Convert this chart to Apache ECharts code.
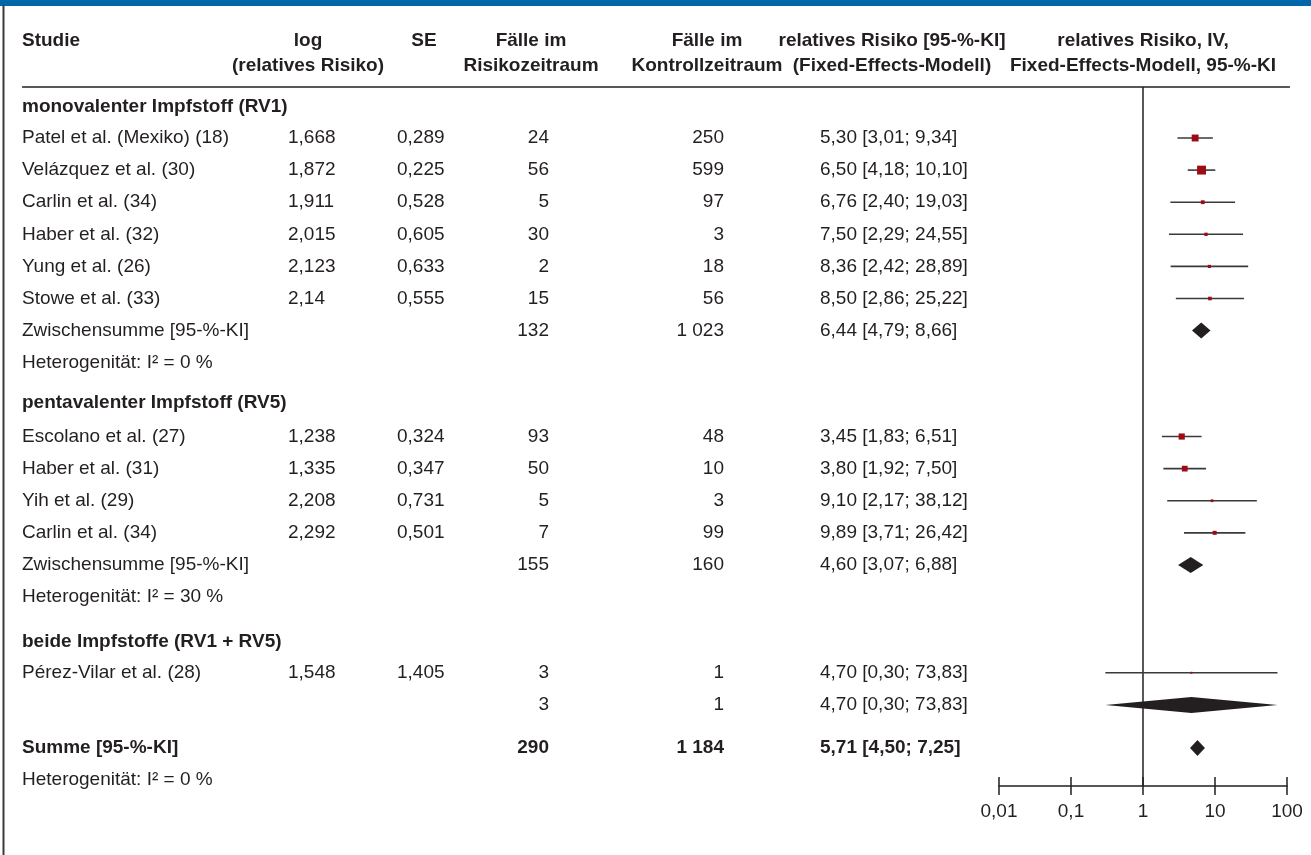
<!DOCTYPE html>
<html><head><meta charset="utf-8">
<script src="https://cdn.jsdelivr.net/npm/echarts@6/dist/echarts.min.js"></script>
<style>html,body{margin:0;padding:0;background:#fff}#c{width:1311px;height:855px}</style>
</head><body><div id="c"></div>
<script>
// ---------------- DATA ----------------
const columnHeaders = [
  ['Studie'],
  ['log', '(relatives Risiko)'],
  ['SE'],
  ['Fälle im', 'Risikozeitraum'],
  ['Fälle im', 'Kontrollzeitraum'],
  ['relatives Risiko [95-%-KI]', '(Fixed-Effects-Modell)'],
  ['relatives Risiko, IV,', 'Fixed-Effects-Modell, 95-%-KI']
];
const groupNames = ['monovalenter Impfstoff (RV1)', 'pentavalenter Impfstoff (RV5)', 'beide Impfstoffe (RV1 + RV5)'];
const studyNames = ['Patel et al. (Mexiko) (18)', 'Velázquez et al. (30)', 'Carlin et al. (34)', 'Haber et al. (32)', 'Yung et al. (26)', 'Stowe et al. (33)',
  'Escolano et al. (27)', 'Haber et al. (31)', 'Yih et al. (29)', 'Carlin et al. (34)',
  'Pérez-Vilar et al. (28)'];
const studyGroup = [0, 0, 0, 0, 0, 0, 1, 1, 1, 1, 2];
const logRR = [1.668, 1.872, 1.911, 2.015, 2.123, 2.14, 1.238, 1.335, 2.208, 2.292, 1.548];
const seLog = [0.289, 0.225, 0.528, 0.605, 0.633, 0.555, 0.324, 0.347, 0.731, 0.501, 1.405];
const casesRisk = [24, 56, 5, 30, 2, 15, 93, 50, 5, 7, 3];
const casesControl = [250, 599, 97, 3, 18, 56, 48, 10, 3, 99, 1];
const rrEst = [5.30, 6.50, 6.76, 7.50, 8.36, 8.50, 3.45, 3.80, 9.10, 9.89, 4.70];
const rrLow = [3.01, 4.18, 2.40, 2.29, 2.42, 2.86, 1.83, 1.92, 2.17, 3.71, 0.30];
const rrHigh = [9.34, 10.10, 19.03, 24.55, 28.89, 25.22, 6.51, 7.50, 38.12, 26.42, 73.83];

const subLabels = ['Zwischensumme [95-%-KI]', 'Zwischensumme [95-%-KI]', ''];
const subCasesRisk = [132, 155, 3];
const subCasesControl = [1023, 160, 1];
const subEst = [6.44, 4.60, 4.70];
const subLow = [4.79, 3.07, 0.30];
const subHigh = [8.66, 6.88, 73.83];
const subI2 = [0, 30, null];

const totalLabel = 'Summe [95-%-KI]';
const totalCasesRisk = 290;
const totalCasesControl = 1184;
const totalEst = 5.71, totalLow = 4.50, totalHigh = 7.25;
const totalI2 = 0;

const axisTickValues = [0.01, 0.1, 1, 10, 100];
const axisTickLabels = ['0,01', '0,1', '1', '10', '100'];

// ---------------- LAYOUT ----------------
const rowPositions = [-0.97, 0, 1, 2, 3, 4, 5, 6, 7, 8.26, 9.3, 10.3, 11.3, 12.3, 13.3, 14.3, 15.68, 16.66, 17.66, 19.0, 20.0];
const yMin = -1.589, yMax = 20.187;
const FONT = '"Liberation Sans", Arial, sans-serif';
const TXT = '#231f20';
const FS = 19;
const colX = { name: 22, log: 288, se: 397, cr: 549, cc: 724, rr: 820 };
const headerX = [22, 308, 424, 531, 707, 892, 1143];
const headerY = [41, 66];

// ---------------- helpers ----------------
const dec = v => String(v).replace('.', ',');
const fix2 = v => v.toFixed(2).replace('.', ',');
const thou = v => String(v).replace(/\B(?=(\d{3})+(?!\d))/g, ' ');
const ci = (e, l, h) => fix2(e) + ' [' + fix2(l) + '; ' + fix2(h) + ']';

// build table rows
const rows = [];
const studyRowIdx = [];
const pooledRows = [];
for (let g = 0; g < groupNames.length; g++) {
  rows.push({ name: groupNames[g], bold: true });
  for (let s = 0; s < studyNames.length; s++) {
    if (studyGroup[s] !== g) continue;
    studyRowIdx[s] = rows.length;
    rows.push({ name: studyNames[s], log: dec(logRR[s]), se: dec(seLog[s]), cr: thou(casesRisk[s]), cc: thou(casesControl[s]), rr: ci(rrEst[s], rrLow[s], rrHigh[s]) });
  }
  pooledRows.push({ idx: rows.length, est: subEst[g], lo: subLow[g], hi: subHigh[g] });
  rows.push({ name: subLabels[g], cr: thou(subCasesRisk[g]), cc: thou(subCasesControl[g]), rr: ci(subEst[g], subLow[g], subHigh[g]) });
  if (subI2[g] !== null) rows.push({ name: 'Heterogenität: I² = ' + subI2[g] + ' %' });
}
pooledRows.push({ idx: rows.length, est: totalEst, lo: totalLow, hi: totalHigh });
rows.push({ name: totalLabel, cr: thou(totalCasesRisk), cc: thou(totalCasesControl), rr: ci(totalEst, totalLow, totalHigh), bold: true });
rows.push({ name: 'Heterogenität: I² = ' + totalI2 + ' %' });

function txt(str, x, y, align, bold) {
  return { type: 'text', silent: true, style: { text: str, x: x, y: y, align: align, verticalAlign: 'middle', fill: TXT, fontSize: FS, fontFamily: FONT, fontWeight: bold ? 'bold' : 'normal' } };
}

const studyData = studyNames.map((n, s) => [rrLow[s], rrHigh[s], rrEst[s], rowPositions[studyRowIdx[s]], seLog[s]]);
const pooledData = pooledRows.map(p => [p.lo, p.hi, p.est, rowPositions[p.idx]]);
const tableData = rows.map((r, i) => [1, rowPositions[i], i]);

// header graphics
const graphics = [
  { type: 'rect', shape: { x: 0, y: 0, width: 1311, height: 6 }, style: { fill: '#0067a8' }, silent: true },
  { type: 'line', shape: { x1: 3.5, y1: 5, x2: 3.5, y2: 855 }, style: { stroke: '#3a3a3a', lineWidth: 2 }, silent: true },
  { type: 'line', shape: { x1: 22, y1: 87, x2: 1290, y2: 87 }, style: { stroke: TXT, lineWidth: 1.5 }, silent: true }
];
columnHeaders.forEach((lines, c) => {
  lines.forEach((t, k) => {
    graphics.push({ type: 'text', silent: true, x: headerX[c], y: headerY[k], style: { text: t, align: c === 0 ? 'left' : 'center', verticalAlign: 'middle', fill: TXT, fontSize: FS, fontFamily: FONT, fontWeight: 'bold' } });
  });
});

const chart = echarts.init(document.getElementById('c'));
const tickLabel = v => {
  const i = Math.round(Math.log10(v)) + 2;
  return axisTickLabels[i] !== undefined ? axisTickLabels[i] : '';
};
chart.setOption({
  animation: false,
  backgroundColor: '#fff',
  grid: { left: 999, right: 24, top: 87, bottom: 69, containLabel: false },
  xAxis: [
    { type: 'log', logBase: 10, min: axisTickValues[0], max: axisTickValues[axisTickValues.length - 1], splitNumber: 4, position: 'bottom',
      axisLine: { show: true, onZero: false, lineStyle: { color: TXT, width: 1.5 } },
      axisTick: { show: true, inside: true, length: 9, lineStyle: { color: TXT, width: 1.5 } },
      axisLabel: { show: true, margin: 16, color: TXT, fontSize: FS, fontFamily: FONT, formatter: tickLabel },
      splitLine: { show: false }, minorTick: { show: false } },
    { type: 'log', logBase: 10, min: axisTickValues[0], max: axisTickValues[axisTickValues.length - 1], splitNumber: 4, position: 'bottom', gridIndex: 0,
      axisLine: { show: false, onZero: false },
      axisTick: { show: true, inside: false, length: 9, lineStyle: { color: TXT, width: 1.5 } },
      axisLabel: { show: false }, splitLine: { show: false } }
  ],
  yAxis: { type: 'value', inverse: true, min: yMin, max: yMax, show: false, splitLine: { show: false } },
  graphic: graphics,
  series: [
    { type: 'line', xAxisIndex: 0, data: [[1, yMin], [1, yMax]], symbol: 'none', silent: true, lineStyle: { color: TXT, width: 1.5 }, z: 1 },
    { type: 'custom', name: 'table', clip: false, silent: true, data: tableData, encode: { x: 0, y: 1 },
      renderItem: function (params, api) {
        const r = rows[api.value(2)];
        const y = api.coord([1, api.value(1)])[1];
        const ch = [];
        if (r.name) ch.push(txt(r.name, colX.name, y, 'left', r.bold));
        if (r.log) ch.push(txt(r.log, colX.log, y, 'left', r.bold));
        if (r.se) ch.push(txt(r.se, colX.se, y, 'left', r.bold));
        if (r.cr) ch.push(txt(r.cr, colX.cr, y, 'right', r.bold));
        if (r.cc) ch.push(txt(r.cc, colX.cc, y, 'right', r.bold));
        if (r.rr) ch.push(txt(r.rr, colX.rr, y, 'left', r.bold));
        return { type: 'group', children: ch };
      } },
    { type: 'custom', name: 'studies', clip: false, silent: true, data: studyData, encode: { x: [0, 1, 2], y: 3 }, z: 3,
      renderItem: function (params, api) {
        const a = api.coord([api.value(0), api.value(3)]);
        const b = api.coord([api.value(1), api.value(3)]);
        const c = api.coord([api.value(2), api.value(3)]);
        const sz = Math.max(2, 2 / api.value(4));
        return { type: 'group', children: [
          { type: 'line', shape: { x1: a[0], y1: a[1], x2: b[0], y2: b[1] }, style: { stroke: '#3a3a3a', lineWidth: 1.6 } },
          { type: 'rect', shape: { x: c[0] - sz / 2, y: c[1] - sz / 2, width: sz, height: sz }, style: { fill: '#9c0c12' } }
        ] };
      } },
    { type: 'custom', name: 'pooled', clip: false, silent: true, data: pooledData, encode: { x: [0, 1, 2], y: 3 }, z: 3,
      renderItem: function (params, api) {
        const a = api.coord([api.value(0), api.value(3)]);
        const b = api.coord([api.value(1), api.value(3)]);
        const c = api.coord([api.value(2), api.value(3)]);
        const h = 8;
        return { type: 'polygon', shape: { points: [[a[0], a[1]], [c[0], c[1] - h], [b[0], b[1]], [c[0], c[1] + h]] }, style: { fill: TXT } };
      } }
  ]
});
</script>
</body></html>
